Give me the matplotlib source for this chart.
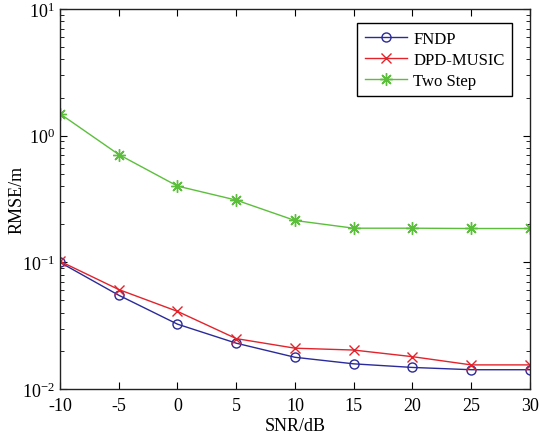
import numpy as np
import matplotlib.pyplot as plt
from matplotlib.ticker import LogLocator, NullFormatter

plt.rcParams['font.family'] = ['Liberation Serif', 'DejaVu Serif']
plt.rcParams['mathtext.fontset'] = 'stix'
plt.rcParams['axes.unicode_minus'] = False

snr = [-10, -5, 0, 5, 10, 15, 20, 25, 30]
rmse_fndp = [0.100, 0.055, 0.0325, 0.023, 0.0178, 0.0158, 0.0148, 0.0142, 0.0142]
rmse_dpd = [0.102, 0.061, 0.041, 0.025, 0.021, 0.0203, 0.018, 0.0155, 0.0155]
rmse_two = [1.49, 0.71, 0.40, 0.31, 0.214, 0.186, 0.186, 0.185, 0.185]

# 8-spoke asterisk like the matlab '*' marker
star = (8, 2, 0)

fig = plt.figure(figsize=(5.39, 4.39), dpi=100)
ax = fig.add_axes([0.1113, 0.1116, 0.872, 0.8656])

ax.semilogy(snr, rmse_fndp, '-', marker='o', color='#2a2a9a', mfc='none', ms=6.5, lw=1, label='FNDP')
ax.semilogy(snr, rmse_dpd, '-', marker='x', color='#e3232b', ms=6.5, mew=1, lw=1, label='DPD-MUSIC')
ax.semilogy(snr, rmse_two, '-', marker=star, color='#5cbf3c', ms=9, mew=1, lw=1, label='Two Step')

ax.set_xlim(-10, 30)
ax.set_ylim(1e-2, 1e1)
ax.set_xticks(snr)
ax.yaxis.set_minor_locator(LogLocator(base=10, subs=np.arange(2, 10)))
ax.yaxis.set_minor_formatter(NullFormatter())
ax.tick_params(which='both', direction='in', top=True, right=True, labelsize=13)
ax.tick_params(axis='x', pad=6)
ax.tick_params(which='major', length=5)
ax.tick_params(which='minor', length=3)
for s in ax.spines.values():
    s.set_linewidth(1)
    s.set_color('#222222')

ax.set_xlabel('SNR/dB', fontsize=13, labelpad=2)
ax.set_ylabel('RMSE/m', fontsize=13, labelpad=-2)

leg = ax.legend(loc='upper right', bbox_to_anchor=(0.962, 0.963), borderaxespad=0,
                fontsize=12, fancybox=False, edgecolor='black', framealpha=1,
                handlelength=2.5, handletextpad=0.4, borderpad=0.45, labelspacing=0.3)
leg.get_frame().set_linewidth(1)

fig.savefig('out.png', dpi=100)
